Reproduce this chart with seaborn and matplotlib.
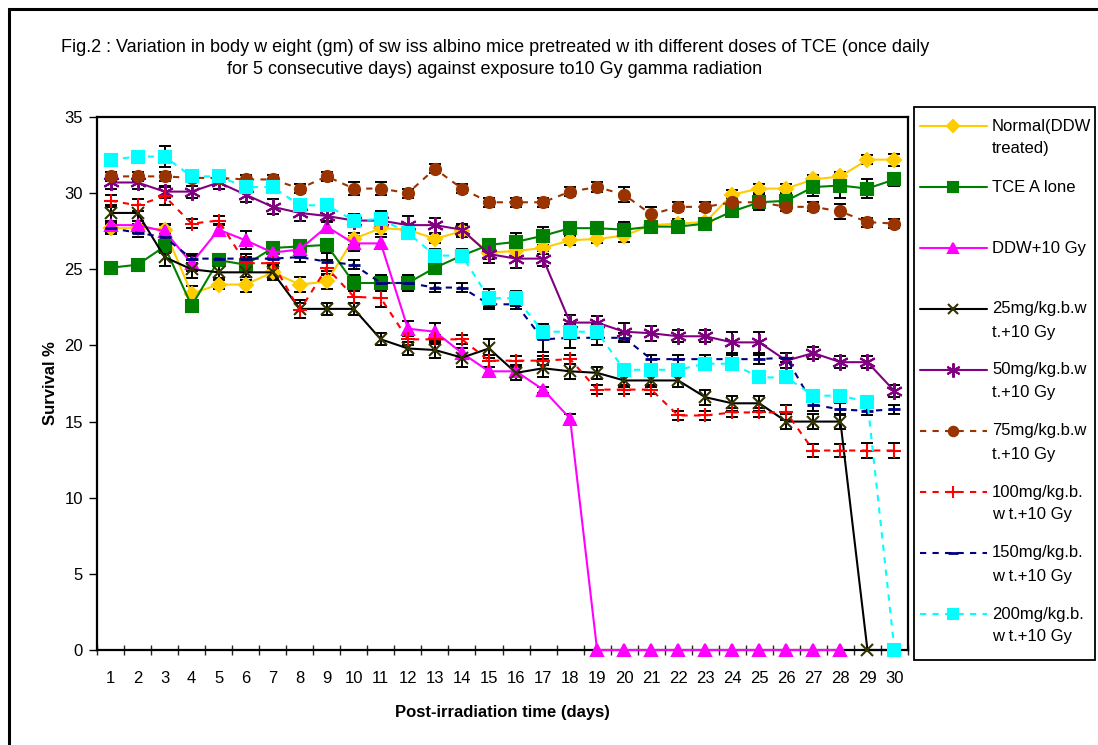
import numpy as np
import pandas as pd
import matplotlib
matplotlib.use("Agg")
import matplotlib.pyplot as plt
import seaborn as sns
from matplotlib.lines import Line2D
from matplotlib.patches import Rectangle

# ---------------- data ----------------
days = list(range(1, 31))
nan = np.nan

normal = [27.7, 27.7, 27.6, 23.4, 24.0, 24.0, 24.8, 24.0, 24.2, 27.0, 27.7, 27.6, 27.0, 27.5, 26.1,
          26.2, 26.4, 26.9, 27.0, 27.2, 27.9, 28.0, 28.1, 29.9, 30.3, 30.3, 30.9, 31.1, 32.2, 32.2]
tce = [25.1, 25.3, 26.5, 22.6, 25.6, 25.3, 26.4, 26.5, 26.6, 24.1, 24.1, 24.1, 25.1, 25.9, 26.6,
       26.8, 27.2, 27.7, 27.7, 27.6, 27.8, 27.8, 28.0, 28.8, 29.4, 29.5, 30.4, 30.5, 30.3, 30.9]
ddw = [27.9, 27.9, 27.5, 25.4, 27.6, 26.9, 26.1, 26.3, 27.8, 26.7, 26.7, 21.1, 20.9, 19.5, 18.3,
       18.3, 17.1, 15.2, 0, 0, 0, 0, 0, 0, 0, 0, 0, 0, nan, nan]
mg25 = [28.7, 28.7, 25.8, 25.0, 24.8, 24.8, 24.8, 22.4, 22.4, 22.4, 20.4, 19.8, 19.7, 19.2, 19.8,
        18.2, 18.5, 18.3, 18.2, 17.7, 17.7, 17.7, 16.6, 16.2, 16.2, 15.0, 15.0, 15.0, 0, 0]
mg50 = [30.7, 30.7, 30.1, 30.1, 30.7, 29.9, 29.1, 28.7, 28.5, 28.2, 28.2, 27.9, 27.9, 27.6, 26.0,
        25.7, 25.7, 21.5, 21.5, 20.9, 20.8, 20.6, 20.6, 20.2, 20.2, 19.0, 19.5, 18.9, 18.9, 17.0]
mg75 = [31.1, 31.1, 31.1, 31.0, 31.0, 30.9, 30.9, 30.3, 31.1, 30.3, 30.3, 30.0, 31.6, 30.3, 29.4,
        29.4, 29.4, 30.1, 30.4, 29.9, 28.6, 29.1, 29.1, 29.4, 29.4, 29.1, 29.1, 28.8, 28.1, 28.0]
mg100 = [29.5, 29.2, 29.8, 28.0, 28.2, 25.4, 25.4, 22.3, 25.1, 23.2, 23.1, 20.4, 20.4, 20.4, 19.0,
         19.0, 19.0, 19.1, 17.1, 17.1, 17.1, 15.4, 15.4, 15.6, 15.6, 15.6, 13.1, 13.1, 13.1, 13.1]
mg150 = [27.7, 27.4, 27.1, 25.7, 25.7, 25.7, 25.7, 25.8, 25.5, 25.3, 24.1, 24.1, 23.8, 23.8, 22.7,
         22.7, 20.4, 20.5, 20.5, 20.5, 19.1, 19.1, 19.1, 19.1, 19.1, 19.2, 16.1, 15.8, 15.7, 15.8]
mg200 = [32.2, 32.4, 32.4, 31.1, 31.1, 30.4, 30.4, 29.2, 29.2, 28.2, 28.3, 27.4, 25.9, 25.9, 23.1,
         23.1, 20.9, 20.9, 20.9, 18.4, 18.4, 18.4, 18.8, 18.8, 17.9, 17.9, 16.7, 16.7, 16.3, 0]

err_normal = [0.4, 0.3, 0.4, 0.5, 0.3, 0.5, 0.4, 0.5, 0.5, 0.4, 0.4, 0.4, 0.3, 0.4, 0.4,
              0.4, 0.4, 0.3, 0.3, 0.4, 0.3, 0.3, 0.3, 0.3, 0.3, 0.3, 0.3, 0.3, 0.3, 0.4]
err_tce = [0.4, 0.4, 0.4, 0.4, 0.4, 0.5, 0.4, 0.4, 0.4, 0.5, 0.5, 0.5, 0.4, 0.4, 0.3,
           0.6, 0.6, 0.4, 0.4, 0.5, 0.4, 0.3, 0.4, 0.3, 0.5, 0.4, 0.6, 0.8, 0.6, 0.4]
err_ddw = [0.3, 0.3, 0.4, 0.5, 0.4, 0.6, 0.4, 0.4, 0.4, 0.5, 0.4, 0.5, 0.6, 0.3, 0.3,
           0.3, 0.2, 0.3, 0, 0, 0, 0, 0, 0, 0, 0, 0, 0, nan, nan]
err_mg25 = [0.5, 0.5, 0.6, 0.6, 0.4, 0.5, 0.5, 0.6, 0.4, 0.4, 0.4, 0.4, 0.5, 0.6, 0.6,
            0.5, 0.6, 0.5, 0.4, 0.4, 0.4, 0.4, 0.5, 0.5, 0.5, 0.5, 0.5, 0.5, 0, 0]
err_mg50 = [0.4, 0.4, 0.4, 0.4, 0.4, 0.5, 0.5, 0.5, 0.4, 0.4, 0.4, 0.6, 0.5, 0.4, 0.6,
            0.6, 0.5, 0.5, 0.4, 0.6, 0.5, 0.4, 0.4, 0.7, 0.7, 0.5, 0.4, 0.4, 0.4, 0.4]
err_mg75 = [0.3, 0.3, 0.3, 0.3, 0.3, 0.3, 0.3, 0.3, 0.3, 0.4, 0.4, 0.3, 0.3, 0.3, 0.3,
            0.3, 0.3, 0.3, 0.3, 0.5, 0.5, 0.3, 0.3, 0.3, 0.3, 0.3, 0.3, 0.5, 0.3, 0.3]
err_mg100 = [0.4, 0.4, 0.6, 0.3, 0.3, 0.4, 0.4, 0.5, 0.5, 0.4, 0.6, 0.4, 0.3, 0.3, 0.4,
             0.3, 0.3, 0.3, 0.3, 0.3, 0.3, 0.3, 0.3, 0.3, 0.3, 0.5, 0.4, 0.4, 0.5, 0.5]
err_mg150 = [0.3, 0.3, 0.3, 0.3, 0.3, 0.3, 0.3, 0.3, 0.6, 0.3, 0.5, 0.5, 0.3, 0.3, 0.3,
             0.3, 0.8, 0.7, 0.5, 0.3, 0.3, 0.3, 0.3, 0.3, 0.3, 0.3, 0.4, 0.4, 0.3, 0.3]
err_mg200 = [0.3, 0.4, 0.7, 0.3, 0.3, 0.3, 0.3, 0.4, 0.4, 0.4, 0.5, 0.4, 0.4, 0.4, 0.6,
             0.5, 0.5, 0.5, 0.5, 0.3, 0.3, 0.3, 0.3, 0.3, 0.3, 0.3, 0.4, 0.4, 0.4, 0.3]

labels = [["Normal(DDW", "treated)"], ["TCE A lone"], ["DDW+10 Gy"],
          ["25mg/kg.b.w", "t.+10 Gy"], ["50mg/kg.b.w", "t.+10 Gy"], ["75mg/kg.b.w", "t.+10 Gy"],
          ["100mg/kg.b.", "w t.+10 Gy"], ["150mg/kg.b.", "w t.+10 Gy"], ["200mg/kg.b.", "w t.+10 Gy"]]

values = [normal, tce, ddw, mg25, mg50, mg75, mg100, mg150, mg200]
errors = [err_normal, err_tce, err_ddw, err_mg25, err_mg50, err_mg75, err_mg100, err_mg150, err_mg200]

# style: line color, marker, marker color, marker size, linestyle
dash = (0, (3, 3))
styles = [
    dict(color="#FFCC00", marker="D", mc="#FFCC00", ms=7.5, ls="-"),
    dict(color="#008000", marker="s", mc="#008000", ms=8, ls="-"),
    dict(color="#FF00FF", marker="^", mc="#FF00FF", ms=9, ls="-"),
    dict(color="#000000", marker="x", mc="#333300", ms=9, ls="-"),
    dict(color="#800080", marker=(6, 2, 0), mc="#800080", ms=12, ls="-"),
    dict(color="#993300", marker="o", mc="#993300", ms=8, ls=dash),
    dict(color="#FF0000", marker="+", mc="#FF0000", ms=10, ls=dash),
    dict(color="#000080", marker="_", mc="#000080", ms=8, ls=dash),
    dict(color="#00FFFF", marker="s", mc="#00FFFF", ms=8, ls=dash),
]

# ---------------- figure ----------------
sns.set_theme(style="white")
plt.rcParams["font.family"] = ["Liberation Sans", "DejaVu Sans"]

W, H = 1098, 745
fig = plt.figure(figsize=(W / 100, H / 100), dpi=100)
fig.patch.set_facecolor("white")
ax = fig.add_axes([97 / W, 95 / H, 811 / W, 533 / H])

for vals, err, st in zip(values, errors, styles):
    v = np.array(vals, dtype=float)
    e = np.array(err, dtype=float)
    ok = ~np.isnan(v)
    d = np.array(days)[ok]
    ax.errorbar(d, v[ok], yerr=e[ok], fmt="none", ecolor="black", elinewidth=1.4,
                capsize=4.5, capthick=1.4, zorder=2)
    df = pd.DataFrame({"day": d, "val": v[ok]})
    mew = 2.0 if st["marker"] == "_" else 1.5
    sns.lineplot(data=df, x="day", y="val", ax=ax, estimator=None, errorbar=None,
                 color=st["color"], linestyle=st["ls"], linewidth=1.5,
                 marker=st["marker"], markersize=st["ms"],
                 markerfacecolor=st["mc"], markeredgecolor=st["mc"], markeredgewidth=mew,
                 legend=False, zorder=3, clip_on=False)

ax.set_xlim(0.5, 30.5)
ax.set_ylim(0, 35)
ax.set_xticks(days)
ax.set_xticklabels([str(d) for d in days])
ax.set_xticks(np.arange(0.5, 31, 1), minor=True)
ax.set_yticks(range(0, 36, 5))
ax.tick_params(axis="x", which="major", length=0, pad=15, labelsize=12, colors="black")
ax.tick_params(axis="x", which="minor", length=7, width=1, direction="inout", bottom=True)
ax.tick_params(axis="y", which="major", length=6, width=1, direction="out", left=True,
               labelsize=12, pad=4, colors="black")
for sp in ax.spines.values():
    sp.set_visible(True)
    sp.set_color("black")
    sp.set_linewidth(1.6)
    sp.set_zorder(1)
ax.grid(False)

ax.set_xlabel("Post-irradiation time (days)", fontsize=12, fontweight="bold", color="black")
ax.set_ylabel("Survival %", fontsize=12, fontweight="bold", color="black")
ax.xaxis.set_label_coords(0.5, -0.103)
ax.yaxis.set_label_coords(-0.048, 0.5)

title = ("Fig.2 : Variation in body w eight (gm) of sw iss albino mice pretreated w ith different doses of TCE (once daily\n"
         "for 5 consecutive days) against exposure to10 Gy gamma radiation")
fig.text(495 / W, 1 - 39 / H, title, ha="center", va="top", fontsize=13,
         linespacing=1.38, multialignment="center", color="black")

# outer frame
fig.patches.append(Rectangle((9 / W, -0.1), 1.2, 1 - 9 / H + 0.1, transform=fig.transFigure,
                             fill=False, edgecolor="black", linewidth=2.2, zorder=0))

# legend box
fig.patches.append(Rectangle((914 / W, (H - 660) / H), 181 / W, 553 / H, transform=fig.transFigure,
                             facecolor="white", edgecolor="black", linewidth=1.3, zorder=1))
for i, (lab, st) in enumerate(zip(labels, styles)):
    ypx = 126 + 61 * i
    yf = 1 - ypx / H
    fig.lines.append(Line2D([920 / W, 987 / W], [yf, yf], transform=fig.transFigure,
                            color=st["color"], linestyle=st["ls"], linewidth=1.5, zorder=2))
    mew = 2.0 if st["marker"] == "_" else 1.5
    fig.lines.append(Line2D([953 / W], [yf], transform=fig.transFigure, linestyle="none",
                            marker=st["marker"], markersize=st["ms"] * 0.85,
                            markerfacecolor=st["mc"], markeredgecolor=st["mc"],
                            markeredgewidth=mew, zorder=3))
    for j, line in enumerate(lab):
        fig.text(992 / W, 1 - (ypx + 23 * j) / H, line, ha="left", va="center",
                 fontsize=12, color="black", zorder=4)

fig.savefig("out.png", dpi=100, facecolor="white")
